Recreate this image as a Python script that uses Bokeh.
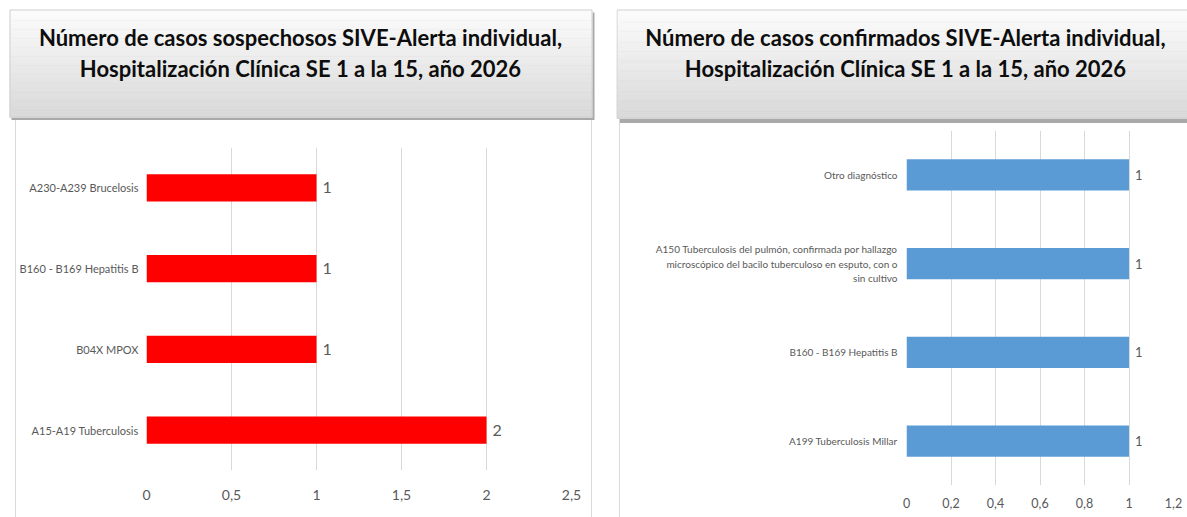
from bokeh.plotting import figure
from bokeh.layouts import row, column
from bokeh.models import Range1d, FactorRange, FixedTicker, CustomJSTickFormatter
from bokeh.core.properties import value
from bokeh.embed import file_html
from bokeh.resources import INLINE

# ---------------- data ----------------
left_title = ["Número de casos sospechosos SIVE-Alerta individual,",
              "Hospitalización Clínica SE 1 a la 15, año 2026"]
left_categories = ["A15-A19 Tuberculosis", "B04X MPOX",
                   "B160 - B169 Hepatitis B", "A230-A239 Brucelosis"]
left_values = [2, 1, 1, 1]
left_ticks = [0, 0.5, 1, 1.5, 2, 2.5]

right_title = ["Número de casos confirmados SIVE-Alerta individual,",
               "Hospitalización Clínica SE 1 a la 15, año 2026"]
right_categories = ["A199 Tuberculosis Millar", "B160 - B169 Hepatitis B",
                    "A150 Tuberculosis del pulmón, confirmada por hallazgo\n"
                    "microscópico del bacilo tuberculoso en esputo, con o\n"
                    "sin cultivo",
                    "Otro diagnóstico"]
right_values = [1, 1, 1, 1]
right_ticks = [0, 0.2, 0.4, 0.6, 0.8, 1, 1.2]

FONT = "Lato"
GREY = "#595959"


def title_fig(width, height, box, dx, dy, lines, cx, baselines):
    p = figure(width=width, height=height, x_range=Range1d(0, width),
               y_range=Range1d(height, 0), output_backend="svg",
               toolbar_location=None, min_border=0, frame_align=False,
               x_axis_location=None, y_axis_location=None)
    p.grid.visible = False
    p.outline_line_color = None
    p.background_fill_color = "white"
    p.border_fill_color = "white"
    x0, y0, x1, y1 = box
    # shadow
    p.quad(left=[x0 + dx], right=[x1 + dx], top=[y0 + dy], bottom=[y1 + dy],
           fill_color="#a9a9a9", line_color=None)
    # gradient body
    n = 60
    tops, bots, cols = [], [], []
    for i in range(n):
        t = i / (n - 1)
        c = int(round(252 - t * (252 - 217)))
        tops.append(y0 + (y1 - y0) * i / n)
        bots.append(y0 + (y1 - y0) * (i + 1) / n + 0.5)
        cols.append("#%02x%02x%02x" % (c, c, c))
    p.quad(left=[x0] * n, right=[x1] * n, top=tops, bottom=bots,
           fill_color=cols, line_color=None)
    p.quad(left=[x0 + 0.5], right=[x1 - 0.5], top=[y0 + 0.5], bottom=[y1 - 0.5],
           fill_color=None, line_color="#d0d0d0", line_width=1)
    p.text(x=[cx] * len(lines), y=baselines, text=lines,
           text_align="center", text_baseline="alphabetic",
           text_font=value(FONT), text_font_style="bold",
           text_font_size="22px", text_color="#0d0d0d")
    return p


def chart(width, height, cats, vals, ticks, xmax, color, mb, label_size,
          tick_size, val_size, tick_standoff, label_standoff, bar_h,
          styles, margin):
    p = figure(width=width, height=height, y_range=FactorRange(*cats),
               x_range=Range1d(0, xmax), output_backend="svg",
               toolbar_location=None, frame_align=False,
               min_border_left=mb[0], min_border_right=mb[1],
               min_border_top=mb[2], min_border_bottom=mb[3],
               styles=styles, margin=margin)
    p.hbar(y=cats, right=vals, height=bar_h, fill_color=color,
           line_color=None)
    p.text(x=vals, y=cats, text=[str(v) for v in vals], x_offset=6,
           text_align="left", text_baseline="middle",
           text_font=value(FONT), text_font_size=val_size, text_color=GREY)
    p.outline_line_color = None
    p.background_fill_color = "white"
    p.border_fill_color = "white"
    p.ygrid.visible = False
    p.xgrid.grid_line_color = "#d9d9d9"
    p.xaxis.ticker = FixedTicker(ticks=ticks)
    p.xaxis.formatter = CustomJSTickFormatter(
        code="return (Math.round(tick*10)/10).toString().replace('.', ',');")
    for ax in (p.xaxis[0], p.yaxis[0]):
        ax.axis_line_color = None
        ax.major_tick_line_color = None
        ax.minor_tick_line_color = None
        ax.major_tick_out = 0
        ax.major_tick_in = 0
        ax.minor_tick_out = 0
        ax.major_label_text_font = FONT
        ax.major_label_text_color = GREY
    p.xaxis.major_label_text_font_size = tick_size
    p.xaxis.major_label_standoff = tick_standoff
    p.yaxis.major_label_text_font_size = label_size
    p.yaxis.major_label_standoff = label_standoff
    return p


tl = title_fig(616, 120, (9, 9, 592, 117), 2, 3, left_title, 300, [37, 68])
cl = chart(577, 397, left_categories, left_values, left_ticks, 2.5, "#ff0000",
           (130, 22, 27, 47), "11px", "14px", "16px", 19, 8, 0.34,
           {"border-left": "1px solid #d9d9d9",
            "border-right": "1px solid #d9d9d9"}, (0, 0, 0, 15))

tr = title_fig(571, 123, (0, 9, 578, 118), 3, 5, right_title, 289, [37, 68])
cr = chart(567, 394, right_categories, right_values, right_ticks, 1.2,
           "#5b9bd5", (286, 14, 7, 32), "10px", "12.5px", "13px", 12, 9, 0.35,
           {"border-left": "1px solid #d9d9d9"}, (0, 0, 0, 3))

layout = row(column(tl, cl, spacing=0), column(tr, cr, spacing=0), spacing=0)

open("out.html", "w").write(file_html(layout, INLINE))
